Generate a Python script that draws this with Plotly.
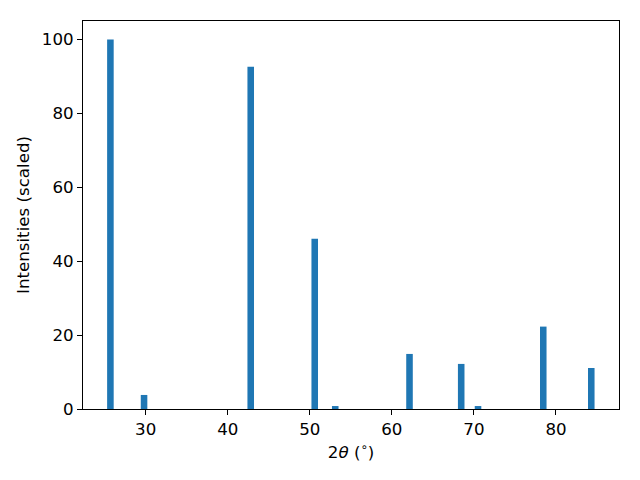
import plotly.graph_objects as go

two_theta = [25.7, 29.8, 42.8, 50.6, 53.1, 62.15, 68.45, 70.5, 78.45, 84.3]
intensity = [100.0, 3.8, 92.6, 46.1, 0.8, 14.9, 12.2, 0.8, 22.3, 11.1]
bar_width = 0.8
x_ticks = [30, 40, 50, 60, 70, 80]
y_ticks = [0, 20, 40, 60, 80, 100]

fig = go.Figure(go.Bar(x=two_theta, y=intensity, width=bar_width,
                       marker=dict(color="#1f77b4", line=dict(width=0))))

font = dict(family="DejaVu Sans", size=16.67, color="black")
fig.update_layout(
    width=632, height=472,
    margin=dict(l=75, r=21, t=13, b=71),
    plot_bgcolor="white", paper_bgcolor="white",
    font=font, showlegend=False,
)
fig.update_xaxes(range=[22.36, 87.68], tickvals=x_ticks, ticks="outside", ticklen=5,
                 tickcolor="black", showline=True, linecolor="black", linewidth=1,
                 mirror=True, showgrid=False, zeroline=False,
                 title=dict(text="2<i>θ</i> (<sup>∘</sup>)", font=font, standoff=8))
fig.update_yaxes(range=[0, 105], tickvals=y_ticks, ticks="outside", ticklen=5,
                 tickcolor="black", showline=True, linecolor="black", linewidth=1,
                 mirror=True, showgrid=False, zeroline=False,
                 title=dict(text="Intensities (scaled)", font=font, standoff=8))

fig.write_html("out.html")
